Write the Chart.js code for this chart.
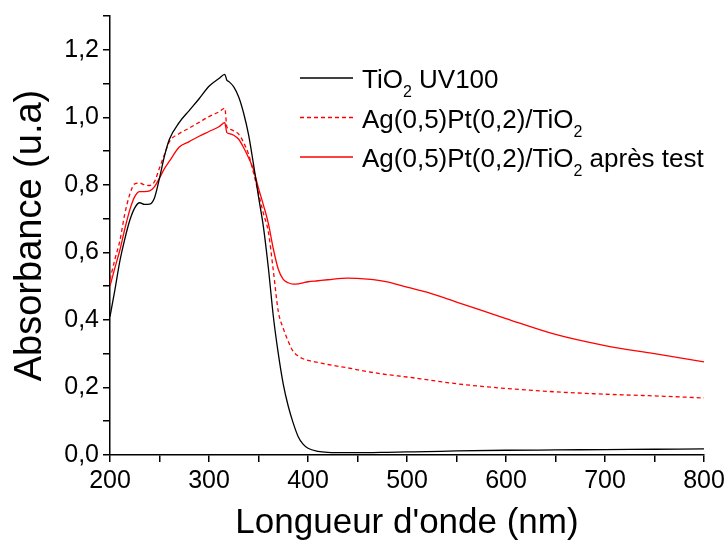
<!DOCTYPE html>
<html>
<head>
<meta charset="utf-8">
<script src="https://cdn.jsdelivr.net/npm/chart.js@4"></script>
<style>
  body { margin: 0; background: #fff; }
  .spectre { width: 726px; height: 547px; }
</style>
</head>
<body>
<div class="spectre"><canvas id="myChart"></canvas></div>
<script>
// longueurs d'onde (nm)
const wavelengths = [200,205,210,215,220,225,230,235,240,245,250,255,260,270,280,290,300,310,316,318,
  320,325,330,335,340,345,350,355,360,365,370,375,380,385,390,395,400,410,420,440,460,480,500,520,550,
  600,650,700,750,800];

const tio2Uv100 = [0.41,0.49,0.575,0.64,0.695,0.732,0.747,0.742,0.743,0.762,0.82,0.885,0.935,0.985,1.02,1.055,1.092,1.115,1.127,1.11,
  1.106,1.09,1.06,1.012,0.948,0.86,0.765,0.675,0.553,0.41,0.30,0.21,0.145,0.095,0.055,0.032,0.02,0.011,0.008,0.007,0.007,0.008,0.009,0.01,0.012,
  0.014,0.015,0.016,0.017,0.018];

const agPt = [0.52,0.58,0.635,0.715,0.772,0.803,0.805,0.80,0.798,0.81,0.85,0.89,0.928,0.952,0.968,0.985,1.002,1.016,1.027,0.972,
  0.966,0.96,0.95,0.925,0.89,0.835,0.775,0.715,0.66,0.545,0.425,0.375,0.337,0.307,0.293,0.285,0.28,0.274,0.268,0.258,0.247,0.238,0.231,0.223,0.211,
  0.197,0.187,0.18,0.175,0.169];

const agPtApresTest = [0.50,0.555,0.607,0.67,0.726,0.765,0.78,0.78,0.782,0.795,0.82,0.848,0.87,0.912,0.928,0.944,0.958,0.972,0.984,0.955,
  0.952,0.947,0.935,0.91,0.88,0.845,0.79,0.74,0.685,0.61,0.55,0.52,0.51,0.506,0.507,0.51,0.513,0.516,0.519,0.524,0.521,0.513,0.497,0.482,0.453,
  0.404,0.357,0.324,0.3,0.276];

const seriesNames = ['TiO₂ UV100', 'Ag(0,5)Pt(0,2)/TiO₂', 'Ag(0,5)Pt(0,2)/TiO₂ après test'];

const FONT = "'Liberation Sans', Arial, sans-serif";

function points(values) {
    return wavelengths.map((x, i) => ({ x: x, y: values[i] }));
}

// legende dessinee a la main pour avoir les indices (TiO2)
const legendeSpectre = {
    id: 'legendeSpectre',
    afterDraw(chart) {
        const ctx = chart.ctx;
        ctx.save();
        chart.data.datasets.forEach((ds, i) => {
            const y = 78 + i * 39.5;
            ctx.strokeStyle = ds.borderColor;
            ctx.lineWidth = ds.borderWidth;
            ctx.setLineDash(ds.borderDash || []);
            ctx.beginPath();
            ctx.moveTo(300, y);
            ctx.lineTo(353, y);
            ctx.stroke();
            ctx.setLineDash([]);

            ctx.fillStyle = '#000';
            ctx.textBaseline = 'alphabetic';
            let x = 362;
            const parts = ds.label.split('₂');
            parts.forEach((part, k) => {
                ctx.font = '26px ' + FONT;
                ctx.fillText(part, x, y + 10);
                x += ctx.measureText(part).width;
                if (k < parts.length - 1) {
                    ctx.font = '16px ' + FONT;
                    ctx.fillText('2', x, y + 19);
                    x += ctx.measureText('2').width;
                }
            });
        });
        ctx.restore();
    }
};

const ctx = document.getElementById('myChart');
new Chart(ctx, {
    type: 'line',
    data: {
        datasets: [
            { label: seriesNames[0], data: points(tio2Uv100), borderColor: '#000000', borderWidth: 1.3 },
            { label: seriesNames[1], data: points(agPt), borderColor: '#ff0000', borderWidth: 1.3, borderDash: [4, 3] },
            { label: seriesNames[2], data: points(agPtApresTest), borderColor: '#ff0000', borderWidth: 1.3 }
        ]
    },
    options: {
        responsive: true,
        maintainAspectRatio: false,
        animation: false,
        layout: { padding: { left: 0, right: 22, top: 16, bottom: 0 } },
        elements: {
            point: { radius: 0 },
            line: { cubicInterpolationMode: 'monotone', fill: false }
        },
        plugins: {
            legend: { display: false },
            tooltip: { enabled: false }
        },
        scales: {
            x: {
                type: 'linear',
                min: 200,
                max: 800,
                afterFit(scale) {
                    scale.height = 92;
                    scale.paddingRight = 0;
                    scale.paddingLeft = 0;
                },
                border: { display: true, color: '#000', width: 1.5 },
                grid: { drawOnChartArea: false, drawTicks: true, tickLength: 7, color: '#000', lineWidth: 1.5 },
                ticks: {
                    stepSize: 50,
                    color: '#000',
                    padding: 4,
                    maxRotation: 0,
                    autoSkip: false,
                    font: { family: FONT, size: 25 },
                    callback: (v) => (v % 100 === 0 ? String(v) : '')
                },
                title: {
                    display: true,
                    text: "Longueur d'onde (nm)",
                    color: '#000',
                    font: { family: FONT, size: 35 },
                    padding: { top: 0, bottom: 3 }
                }
            },
            y: {
                min: 0,
                max: 1.3,
                afterFit(scale) {
                    scale.width = 110;
                    scale.paddingTop = 0;
                    scale.paddingBottom = 0;
                },
                border: { display: true, color: '#000', width: 1.5 },
                grid: { drawOnChartArea: false, drawTicks: true, tickLength: 7, color: '#000', lineWidth: 1.5 },
                ticks: {
                    stepSize: 0.1,
                    color: '#000',
                    padding: 4,
                    autoSkip: false,
                    font: { family: FONT, size: 25 },
                    callback: (v) => (Math.round(v * 10) % 2 === 0 ? v.toFixed(1).replace('.', ',') : '')
                },
                title: {
                    display: true,
                    text: 'Absorbance (u.a)',
                    color: '#000',
                    font: { family: FONT, size: 38 },
                    padding: { top: 8, bottom: 0 }
                }
            }
        }
    },
    plugins: [legendeSpectre]
});
</script>
</body>
</html>
